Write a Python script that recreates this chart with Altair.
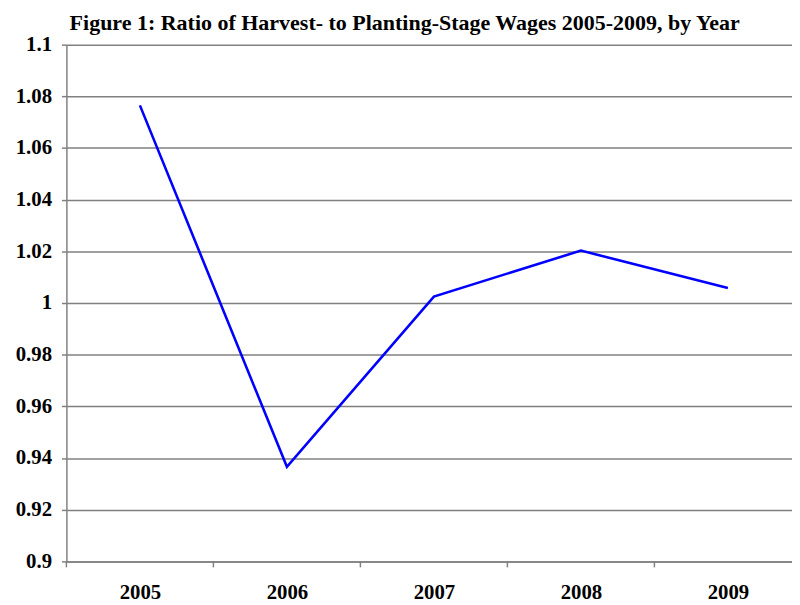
import altair as alt
import pandas as pd

years = [2005, 2006, 2007, 2008, 2009]
ratio = [1.0765, 0.9366, 1.0025, 1.0203, 1.0058]
y_ticks = [0.9, 0.92, 0.94, 0.96, 0.98, 1.0, 1.02, 1.04, 1.06, 1.08, 1.1]
boundaries = [2004.5, 2005.5, 2006.5, 2007.5, 2008.5]

df = pd.DataFrame({"year": years, "ratio": ratio})
bdf = pd.DataFrame({"b": boundaries})

W, H = 733, 522
xscale = alt.Scale(domain=[2004.5, 2004.5 + W / 148.5], nice=False, zero=False)
GRAY = "#808080"
FONT = "Liberation Serif"

xaxis = alt.Axis(values=years, format="d", title=None, ticks=False,
                 grid=False, labelPadding=37, labelBaseline="alphabetic",
                 labelFontSize=21, labelFont=FONT, labelFontWeight="bold",
                 labelColor="black", domainColor=GRAY, domainWidth=1.5,
                 labelFlush=False)

line = alt.Chart(df).mark_line(color="#0000FF", strokeWidth=2.6).encode(
    x=alt.X("year:Q", scale=xscale, axis=xaxis),
    y=alt.Y("ratio:Q", scale=alt.Scale(domain=[0.9, 1.1], nice=False, zero=False),
            axis=alt.Axis(values=y_ticks, format="~g", title=None, grid=True,
                          gridColor=GRAY, gridWidth=1.5, tickColor=GRAY, tickWidth=1.5,
                          tickSize=5, labelPadding=10, labelFontSize=21,
                          labelFont=FONT, labelFontWeight="bold", labelColor="black",
                          domainColor=GRAY, domainWidth=1.5)),
)

ticks = alt.Chart(bdf).mark_rule(color=GRAY, strokeWidth=1.5).encode(
    x=alt.X("b:Q", scale=xscale, axis=xaxis),
    y=alt.value(H),
    y2=alt.value(H + 6),
)

chart = alt.layer(line, ticks).properties(
    width=W,
    height=H,
    autosize=alt.AutoSizeParams(type="none"),
    padding={"left": 59, "top": 34, "right": 0, "bottom": 41},
    title=alt.TitleParams(
        "Figure 1: Ratio of Harvest- to Planting-Stage Wages 2005-2009, by Year",
        anchor="start", dx=55, dy=31, offset=13, baseline="alphabetic",
        font=FONT, fontSize=22.2, fontWeight="bold", color="black",
    ),
).configure_view(strokeOpacity=0)

chart.save("out.html", embed_options={"renderer": "svg", "actions": False})
